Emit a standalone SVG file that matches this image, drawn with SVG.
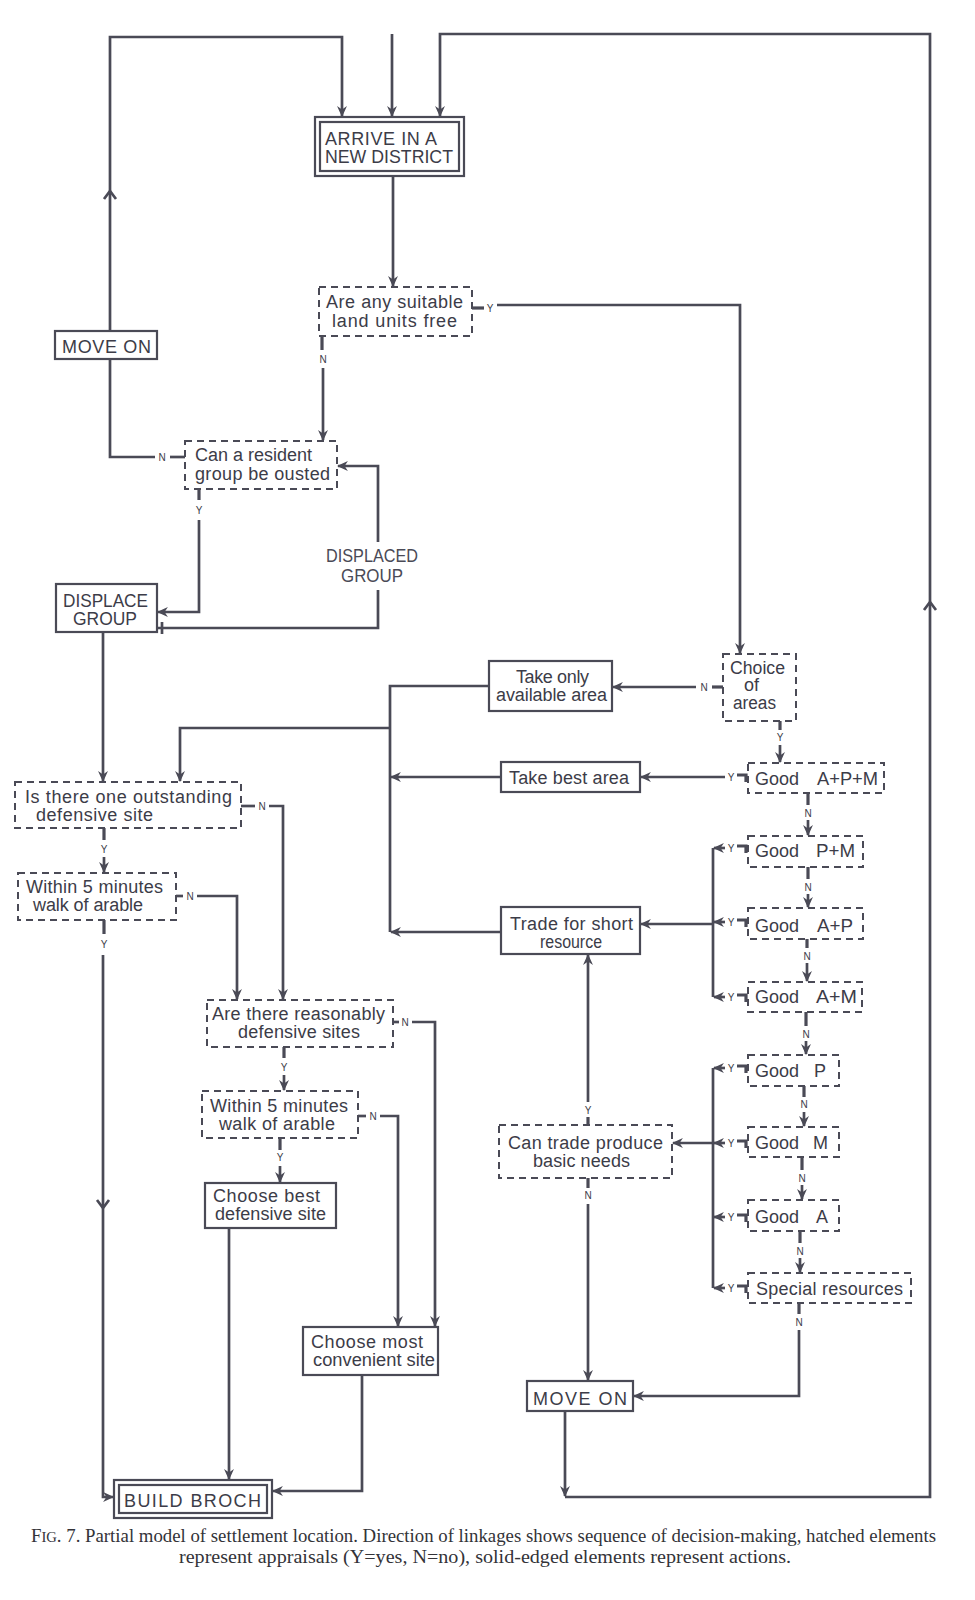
<svg xmlns="http://www.w3.org/2000/svg" width="975" height="1600" viewBox="0 0 975 1600">
<defs>
<style>
.ln{fill:none;stroke:#4a4a56;stroke-width:2.7;stroke-linejoin:miter}
.st{fill:none;stroke:#4a4a56;stroke-width:3.2}
.box{fill:#fff;stroke:#4a4a56;stroke-width:2.2}
.dbox{fill:#fff;stroke:#4a4a56;stroke-width:2;stroke-dasharray:7 5}
.t{font-family:"Liberation Sans",Arial,sans-serif;font-size:18px;fill:#3c3c48}
.lt{font-family:"Liberation Sans",Arial,sans-serif;font-size:18px;fill:#4a4a56}
.yn{font-family:"Liberation Sans",Arial,sans-serif;font-size:10px;fill:#3c3c48;text-anchor:middle}
.cap{font-family:"Liberation Serif","Times New Roman",serif;font-size:18px;fill:#333338}
</style>
<marker id="a" viewBox="0 0 10 10" refX="9" refY="5" markerWidth="11" markerHeight="11" orient="auto" markerUnits="userSpaceOnUse">
<path d="M0,0.5 L10,5 L0,9.5 L3,5 z" fill="#4a4a56"/>
</marker>
</defs>
<rect width="975" height="1600" fill="#ffffff"/>

<g id="connectors">
<path class="ln" d="M110,331 V37 H342 V116" marker-end="url(#a)"/>
<path class="ln" d="M104,199 L110,191 L116,199"/>
<path class="ln" d="M392,34 V116" marker-end="url(#a)"/>
<path class="ln" d="M565,1412 V1496" marker-end="url(#a)"/>
<path class="ln" d="M565,1497 H930 V34 H440 V116" marker-end="url(#a)"/>
<path class="ln" d="M924,610 L930,602 L936,610"/>
<path class="ln" d="M393,176 V286" marker-end="url(#a)"/>
<path class="st" d="M472,308 H484"/>
<path class="ln" d="M497,305 H740 V653" marker-end="url(#a)"/>
<path class="st" d="M322,336 V350"/>
<path class="ln" d="M323,368 V440" marker-end="url(#a)"/>
<path class="ln" d="M185,457 H170"/>
<path class="ln" d="M155,457 H110 V359"/>
<path class="st" d="M199,489 V500"/>
<path class="ln" d="M199,520 V612 H158" marker-end="url(#a)"/>
<path class="ln" d="M162,622 V634"/>
<path class="ln" d="M157,628 H378 V590"/>
<path class="ln" d="M378,542 V466 H338" marker-end="url(#a)"/>
<path class="ln" d="M103,632 V781" marker-end="url(#a)"/>
<path class="ln" d="M489,686 H390 V932"/>
<path class="ln" d="M501,777 H391" marker-end="url(#a)"/>
<path class="ln" d="M501,932 H391" marker-end="url(#a)"/>
<path class="ln" d="M390,728 H180 V781" marker-end="url(#a)"/>
<path class="ln" d="M241,806 H255"/>
<path class="ln" d="M269,806 H283 V999" marker-end="url(#a)"/>
<path class="st" d="M104,828 V840"/>
<path class="ln" d="M104,857 V872" marker-end="url(#a)"/>
<path class="ln" d="M176,896 H183"/>
<path class="ln" d="M197,896 H237 V999" marker-end="url(#a)"/>
<path class="st" d="M104,920 V934"/>
<path class="ln" d="M103,955 V1497 H113" marker-end="url(#a)"/>
<path class="ln" d="M97,1200 L103,1208 L109,1200"/>
<path class="ln" d="M393,1022 H399"/>
<path class="ln" d="M412,1022 H435 V1326" marker-end="url(#a)"/>
<path class="st" d="M284,1047 V1058"/>
<path class="ln" d="M284,1075 V1090" marker-end="url(#a)"/>
<path class="ln" d="M358,1116 H366"/>
<path class="ln" d="M380,1116 H398 V1326" marker-end="url(#a)"/>
<path class="st" d="M280,1138 V1150"/>
<path class="ln" d="M280,1166 V1182" marker-end="url(#a)"/>
<path class="ln" d="M229,1228 V1479" marker-end="url(#a)"/>
<path class="ln" d="M362,1375 V1491 H273" marker-end="url(#a)"/>
<path class="st" d="M723,687 H712"/>
<path class="ln" d="M696,687 H613" marker-end="url(#a)"/>
<path class="st" d="M780,721 V730"/>
<path class="ln" d="M780,745 V762" marker-end="url(#a)"/>
<path class="st" d="M737,775 H746 V782"/>
<path class="ln" d="M725,777 H641" marker-end="url(#a)"/>
<path class="st" d="M808,793 V805"/>
<path class="ln" d="M808,820 V835" marker-end="url(#a)"/>
<path class="ln" d="M713,848 V997"/>
<path class="st" d="M737,846 H746 V853"/>
<path class="ln" d="M725,848 H714" marker-end="url(#a)"/>
<path class="st" d="M737,920 H746 V927"/>
<path class="ln" d="M725,922 H714" marker-end="url(#a)"/>
<path class="st" d="M737,995 H746 V1002"/>
<path class="ln" d="M725,997 H714" marker-end="url(#a)"/>
<path class="ln" d="M713,924 H641" marker-end="url(#a)"/>
<path class="st" d="M808,867 V879"/>
<path class="ln" d="M808,894 V907" marker-end="url(#a)"/>
<path class="st" d="M807,939 V948"/>
<path class="ln" d="M807,963 V981" marker-end="url(#a)"/>
<path class="st" d="M806,1012 V1026"/>
<path class="ln" d="M806,1041 V1054" marker-end="url(#a)"/>
<path class="ln" d="M713,1068 V1288"/>
<path class="st" d="M737,1066 H746 V1073"/>
<path class="ln" d="M725,1068 H714" marker-end="url(#a)"/>
<path class="st" d="M737,1141 H746 V1148"/>
<path class="ln" d="M725,1143 H714" marker-end="url(#a)"/>
<path class="st" d="M737,1215 H746 V1222"/>
<path class="ln" d="M725,1217 H714" marker-end="url(#a)"/>
<path class="st" d="M737,1286 H746 V1293"/>
<path class="ln" d="M725,1288 H714" marker-end="url(#a)"/>
<path class="ln" d="M713,1143 H673" marker-end="url(#a)"/>
<path class="st" d="M804,1086 V1097"/>
<path class="ln" d="M804,1112 V1126" marker-end="url(#a)"/>
<path class="st" d="M802,1157 V1170"/>
<path class="ln" d="M802,1185 V1199" marker-end="url(#a)"/>
<path class="st" d="M800,1231 V1243"/>
<path class="ln" d="M800,1258 V1272" marker-end="url(#a)"/>
<path class="st" d="M799,1303 V1314"/>
<path class="ln" d="M799,1330 V1396 H634" marker-end="url(#a)"/>
<path class="st" d="M588,1125 V1117"/>
<path class="ln" d="M588,1102 V955" marker-end="url(#a)"/>
<path class="st" d="M588,1178 V1188"/>
<path class="ln" d="M588,1204 V1380" marker-end="url(#a)"/>
</g>

<g id="labels">
<text class="yn" x="490" y="312">Y</text>
<text class="yn" x="323" y="363">N</text>
<text class="yn" x="162" y="461">N</text>
<text class="yn" x="199" y="514">Y</text>
<text class="yn" x="262" y="810">N</text>
<text class="yn" x="104" y="853">Y</text>
<text class="yn" x="190" y="900">N</text>
<text class="yn" x="104" y="948">Y</text>
<text class="yn" x="405" y="1026">N</text>
<text class="yn" x="284" y="1071">Y</text>
<text class="yn" x="373" y="1120">N</text>
<text class="yn" x="280" y="1161">Y</text>
<text class="yn" x="704" y="691">N</text>
<text class="yn" x="780" y="741">Y</text>
<text class="yn" x="731" y="781">Y</text>
<text class="yn" x="808" y="817">N</text>
<text class="yn" x="731" y="852">Y</text>
<text class="yn" x="808" y="891">N</text>
<text class="yn" x="731" y="926">Y</text>
<text class="yn" x="807" y="960">N</text>
<text class="yn" x="731" y="1001">Y</text>
<text class="yn" x="806" y="1038">N</text>
<text class="yn" x="731" y="1072">Y</text>
<text class="yn" x="804" y="1108">N</text>
<text class="yn" x="731" y="1147">Y</text>
<text class="yn" x="802" y="1182">N</text>
<text class="yn" x="731" y="1221">Y</text>
<text class="yn" x="800" y="1255">N</text>
<text class="yn" x="731" y="1292">Y</text>
<text class="yn" x="799" y="1326">N</text>
<text class="yn" x="588" y="1114">Y</text>
<text class="yn" x="588" y="1199">N</text>
<text class="lt" x="326" y="562" textLength="92" lengthAdjust="spacingAndGlyphs">DISPLACED</text>
<text class="lt" x="341" y="582" textLength="62" lengthAdjust="spacingAndGlyphs">GROUP</text>
</g>

<g id="arrive">
<rect class="box" x="315" y="117" width="149" height="59"/>
<rect class="box" x="320" y="122" width="139" height="49"/>
<text class="t" x="325" y="145" textLength="112" lengthAdjust="spacing">ARRIVE IN A</text>
<text class="t" x="325" y="163" textLength="128" lengthAdjust="spacingAndGlyphs">NEW DISTRICT</text>
</g>

<g id="move-on-1">
<rect class="box" x="55" y="331" width="102" height="28"/>
<text class="t" x="62" y="353" textLength="89" lengthAdjust="spacing">MOVE ON</text>
</g>

<g id="are-any">
<rect class="dbox" x="319" y="287" width="153" height="49"/>
<text class="t" x="326" y="308" textLength="137" lengthAdjust="spacing">Are any suitable</text>
<text class="t" x="332" y="327" textLength="125" lengthAdjust="spacing">land units free</text>
</g>

<g id="can-resident">
<rect class="dbox" x="185" y="441" width="152" height="48"/>
<text class="t" x="195" y="461">Can a resident</text>
<text class="t" x="195" y="480" textLength="135" lengthAdjust="spacing">group be ousted</text>
</g>

<g id="displace-group">
<rect class="box" x="56" y="584" width="101" height="48"/>
<text class="t" x="63" y="607" textLength="85" lengthAdjust="spacingAndGlyphs">DISPLACE</text>
<text class="t" x="73" y="625" textLength="64" lengthAdjust="spacingAndGlyphs">GROUP</text>
</g>

<g id="is-there-one">
<rect class="dbox" x="15" y="782" width="226" height="46"/>
<text class="t" x="25" y="803" textLength="207" lengthAdjust="spacing">Is there one outstanding</text>
<text class="t" x="36" y="821" textLength="117" lengthAdjust="spacing">defensive site</text>
</g>

<g id="within-1">
<rect class="dbox" x="18" y="873" width="158" height="47"/>
<text class="t" x="26" y="893" textLength="137" lengthAdjust="spacing">Within 5 minutes</text>
<text class="t" x="33" y="911" textLength="110" lengthAdjust="spacing">walk of arable</text>
</g>

<g id="reasonably">
<rect class="dbox" x="207" y="1000" width="186" height="47"/>
<text class="t" x="212" y="1020" textLength="173" lengthAdjust="spacing">Are there reasonably</text>
<text class="t" x="238" y="1038" textLength="122" lengthAdjust="spacing">defensive sites</text>
</g>

<g id="within-2">
<rect class="dbox" x="202" y="1091" width="156" height="47"/>
<text class="t" x="210" y="1112" textLength="138" lengthAdjust="spacing">Within 5 minutes</text>
<text class="t" x="219" y="1130" textLength="116" lengthAdjust="spacing">walk of arable</text>
</g>

<g id="choose-best">
<rect class="box" x="205" y="1183" width="131" height="45"/>
<text class="t" x="213" y="1202" textLength="107" lengthAdjust="spacing">Choose best</text>
<text class="t" x="215" y="1220" textLength="111" lengthAdjust="spacing">defensive site</text>
</g>

<g id="choose-most">
<rect class="box" x="303" y="1327" width="135" height="48"/>
<text class="t" x="311" y="1348" textLength="112" lengthAdjust="spacing">Choose most</text>
<text class="t" x="313" y="1366" textLength="122" lengthAdjust="spacingAndGlyphs">convenient site</text>
</g>

<g id="build-broch">
<rect class="box" x="114" y="1480" width="158" height="38"/>
<rect class="box" x="119" y="1485" width="148" height="28"/>
<text class="t" x="124" y="1507" textLength="137" lengthAdjust="spacing">BUILD BROCH</text>
</g>

<g id="choice">
<rect class="dbox" x="723" y="654" width="73" height="67"/>
<text class="t" x="730" y="674" font-size="17" textLength="55" lengthAdjust="spacingAndGlyphs">Choice</text>
<text class="t" x="744" y="691" font-size="17">of</text>
<text class="t" x="733" y="709" font-size="17" textLength="43" lengthAdjust="spacingAndGlyphs">areas</text>
</g>

<g id="take-only">
<rect class="box" x="489" y="661" width="123" height="50"/>
<text class="t" x="516" y="683" textLength="73" lengthAdjust="spacing">Take only</text>
<text class="t" x="496" y="701" textLength="111" lengthAdjust="spacing">available area</text>
</g>

<g id="take-best">
<rect class="box" x="501" y="762" width="139" height="30"/>
<text class="t" x="509" y="784" textLength="120" lengthAdjust="spacing">Take best area</text>
</g>

<g id="trade-short">
<rect class="box" x="501" y="907" width="139" height="47"/>
<text class="t" x="510" y="930" textLength="123" lengthAdjust="spacing">Trade for short</text>
<text class="t" x="540" y="948" textLength="62" lengthAdjust="spacingAndGlyphs">resource</text>
</g>

<g id="can-trade">
<rect class="dbox" x="499" y="1125" width="173" height="53"/>
<text class="t" x="508" y="1149" textLength="155" lengthAdjust="spacing">Can trade produce</text>
<text class="t" x="533" y="1167" textLength="97" lengthAdjust="spacing">basic needs</text>
</g>

<g id="move-on-2">
<rect class="box" x="527" y="1381" width="106" height="30"/>
<text class="t" x="533" y="1405" textLength="94" lengthAdjust="spacing">MOVE ON</text>
</g>

<g id="good-apm">
<rect class="dbox" x="748" y="763" width="136" height="30"/>
<text class="t" x="755" y="785">Good</text><text class="t" x="817" y="785" textLength="61" lengthAdjust="spacingAndGlyphs">A+P+M</text>
</g>
<g id="good-pm">
<rect class="dbox" x="748" y="836" width="115" height="31"/>
<text class="t" x="755" y="857">Good</text><text class="t" x="816" y="857" textLength="39" lengthAdjust="spacingAndGlyphs">P+M</text>
</g>
<g id="good-ap">
<rect class="dbox" x="748" y="908" width="115" height="31"/>
<text class="t" x="755" y="932">Good</text><text class="t" x="817" y="932" textLength="36" lengthAdjust="spacingAndGlyphs">A+P</text>
</g>
<g id="good-am">
<rect class="dbox" x="748" y="982" width="114" height="30"/>
<text class="t" x="755" y="1003">Good</text><text class="t" x="816" y="1003" textLength="41" lengthAdjust="spacingAndGlyphs">A+M</text>
</g>
<g id="good-p">
<rect class="dbox" x="748" y="1055" width="91" height="31"/>
<text class="t" x="755" y="1077">Good</text><text class="t" x="814" y="1077">P</text>
</g>
<g id="good-m">
<rect class="dbox" x="748" y="1127" width="91" height="30"/>
<text class="t" x="755" y="1149">Good</text><text class="t" x="813" y="1149">M</text>
</g>
<g id="good-a">
<rect class="dbox" x="748" y="1200" width="91" height="31"/>
<text class="t" x="755" y="1223">Good</text><text class="t" x="816" y="1223">A</text>
</g>
<g id="special">
<rect class="dbox" x="748" y="1273" width="163" height="30"/>
<text class="t" x="756" y="1295" textLength="147" lengthAdjust="spacing">Special resources</text>
</g>

<g id="caption">
<text class="cap" x="31" y="1542" textLength="905" lengthAdjust="spacingAndGlyphs">F<tspan font-size="14">IG</tspan>. 7. Partial model of settlement location. Direction of linkages shows sequence of decision-making, hatched elements</text>
<text class="cap" x="179" y="1563" textLength="612" lengthAdjust="spacingAndGlyphs">represent appraisals (Y=yes, N=no), solid-edged elements represent actions.</text>
</g>
</svg>
